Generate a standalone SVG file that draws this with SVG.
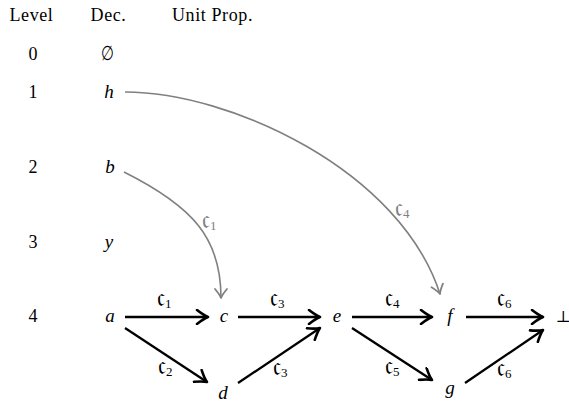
<svg xmlns="http://www.w3.org/2000/svg" width="569" height="406" viewBox="0 0 569 406">
<defs>
<marker id="ah" viewBox="-13 -8 15 16" refX="0" refY="0" markerWidth="15" markerHeight="16" markerUnits="userSpaceOnUse" orient="auto">
<path d="M-11,-7 Q-4,-1.5 0,0 Q-4,1.5 -11,7" fill="none" stroke="#000" stroke-width="2.6" stroke-linecap="round" stroke-linejoin="round"/>
</marker>
<marker id="gh" viewBox="-13 -8 15 16" refX="0" refY="0" markerWidth="15" markerHeight="16" markerUnits="userSpaceOnUse" orient="auto">
<path d="M-9,-6 Q-3.5,-1.3 0,0 Q-3.5,1.3 -9,6" fill="none" stroke="#808080" stroke-width="1.8" stroke-linecap="round" stroke-linejoin="round"/>
</marker>
</defs>
<g id="header" font-family="'Liberation Serif', 'DejaVu Serif', serif" font-size="18" letter-spacing="0.6" text-anchor="middle" fill="#000">
<text x="31.5" y="21">Level</text>
<text x="108.5" y="21">Dec.</text>
<text x="172" y="21" text-anchor="start">Unit Prop.</text>
</g>
<g id="levels" font-family="'Liberation Serif', 'DejaVu Serif', serif" font-size="18" text-anchor="middle" fill="#000">
<text x="33" y="60">0</text>
<text x="33" y="98">1</text>
<text x="33" y="173">2</text>
<text x="33" y="248">3</text>
<text x="33" y="322">4</text>
</g>
<g font-family="'Liberation Serif', 'DejaVu Serif', serif" font-size="19" font-style="italic" text-anchor="middle" fill="#000">
<g id="n-empty"><text x="0" y="0" font-style="normal" font-family="'DejaVu Serif', serif" font-size="17" transform="translate(107,60) scale(0.85,1.15)">∅</text></g>
<g id="n-h"><text x="109" y="98">h</text></g>
<g id="n-b"><text x="110" y="173">b</text></g>
<g id="n-y"><text x="109" y="248">y</text></g>
<g id="n-a"><text x="110" y="322">a</text></g>
<g id="n-c"><text x="224" y="322">c</text></g>
<g id="n-e"><text x="337" y="322">e</text></g>
<g id="n-f"><text x="450" y="322">f</text></g>
<g id="n-bot"><text x="563" y="322" font-style="normal" font-family="'DejaVu Serif', serif" font-size="16">⊥</text></g>
<g id="n-d"><text x="223" y="399">d</text></g>
<g id="n-g"><text x="450" y="394">g</text></g>
</g>
<g id="connectors" fill="none">
<path stroke="#808080" stroke-width="1.6" d="M125,92 C230,92 400,170 440,294" marker-end="url(#gh)"/>
<path stroke="#808080" stroke-width="1.6" d="M124,172 C194,207 221,239 221,298" marker-end="url(#gh)"/>
<g stroke="#000" stroke-width="2.3">
<path d="M125,317 L208,317" marker-end="url(#ah)"/>
<path d="M238,317 L320,317" marker-end="url(#ah)"/>
<path d="M352,317 L432,317" marker-end="url(#ah)"/>
<path d="M466,317 L543,317" marker-end="url(#ah)"/>
<path d="M125,328 L207,382" marker-end="url(#ah)"/>
<path d="M238,383 L320,328" marker-end="url(#ah)"/>
<path d="M352,328 L432,380" marker-end="url(#ah)"/>
<path d="M465,383 L543,330" marker-end="url(#ah)"/>
</g>
</g>
<g id="labels" font-family="'DejaVu Serif', serif" font-size="26" fill="#000">
<text x="202" y="228" fill="#808080">𝔠<tspan font-family="'Liberation Serif', serif" font-size="13" dy="2">1</tspan></text>
<text x="395" y="216" fill="#808080">𝔠<tspan font-family="'Liberation Serif', serif" font-size="13" dy="2">4</tspan></text>
<text x="157" y="306">𝔠<tspan font-family="'Liberation Serif', serif" font-size="13" dy="2">1</tspan></text>
<text x="270" y="306">𝔠<tspan font-family="'Liberation Serif', serif" font-size="13" dy="2">3</tspan></text>
<text x="385" y="306">𝔠<tspan font-family="'Liberation Serif', serif" font-size="13" dy="2">4</tspan></text>
<text x="497" y="306">𝔠<tspan font-family="'Liberation Serif', serif" font-size="13" dy="2">6</tspan></text>
<text x="158" y="374">𝔠<tspan font-family="'Liberation Serif', serif" font-size="13" dy="2">2</tspan></text>
<text x="273" y="375">𝔠<tspan font-family="'Liberation Serif', serif" font-size="13" dy="2">3</tspan></text>
<text x="385" y="374">𝔠<tspan font-family="'Liberation Serif', serif" font-size="13" dy="2">5</tspan></text>
<text x="497" y="376">𝔠<tspan font-family="'Liberation Serif', serif" font-size="13" dy="2">6</tspan></text>
</g>
</svg>
